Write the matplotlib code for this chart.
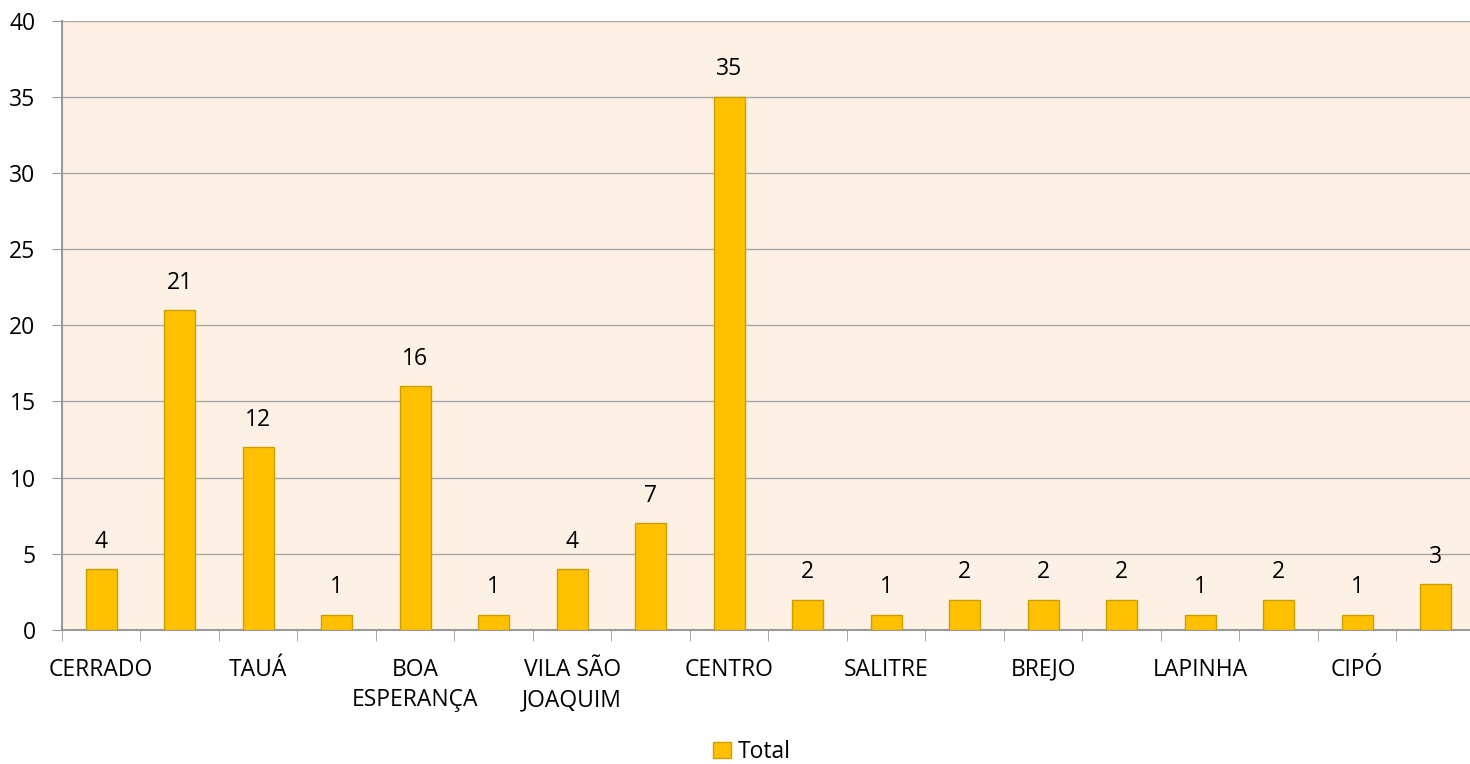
import matplotlib.pyplot as plt
from matplotlib.patches import Patch

# categories (only every other label is shown in the source chart)
categories = ['CERRADO', '', 'TAUÁ', '', 'BOA\nESPERANÇA', '', 'VILA SÃO\nJOAQUIM', '',
              'CENTRO', '', 'SALITRE', '', 'BREJO', '', 'LAPINHA', '', 'CIPÓ', '']
totals = [4, 21, 12, 1, 16, 1, 4, 7, 35, 2, 1, 2, 2, 2, 1, 2, 1, 3]
yticks = [0, 5, 10, 15, 20, 25, 30, 35, 40]

plt.rcParams['font.family'] = ['Open Sans', 'DejaVu Sans']

W, H = 1470, 764
fig = plt.figure(figsize=(W / 100, H / 100), dpi=100)
left, right, top, bottom = 62, 1475, 20.5, 630
ax = fig.add_axes([left / W, 1 - bottom / H, (right - left) / W, (bottom - top) / H])
ax.set_facecolor('#FDF1E5')

x = list(range(len(totals)))
bars = ax.bar(x, totals, width=0.395, color='#FFC000', edgecolor='#C9A000', linewidth=1, zorder=3)
for xi, v in zip(x, totals):
    ax.annotate(str(v), (xi, v), xytext=(0, 11), textcoords='offset points',
                ha='center', va='bottom', fontsize=16.5, color='black')

ax.set_xlim(-0.5, len(totals) - 0.5)
ax.set_ylim(0, 40)
ax.set_yticks(yticks)
ax.tick_params(axis='y', labelsize=16.5, length=7, color='#999999', pad=12)
ax.yaxis.grid(True, color='#A6A6A6', linewidth=1, zorder=0)

# category labels centered on bars, ticks on category boundaries
ax.set_xticks(x)
ax.set_xticklabels(categories, fontsize=16.5, linespacing=1.35)
ax.tick_params(axis='x', length=0, pad=20)
ax.set_xticks([i - 0.5 for i in range(len(totals) + 1)], minor=True)
ax.tick_params(axis='x', which='minor', length=8, color='#999999')

for s in ['top', 'right']:
    ax.spines[s].set_visible(False)
for s in ['left', 'bottom']:
    ax.spines[s].set_color('#999999')
    ax.spines[s].set_linewidth(1.5)

handle = Patch(facecolor='#FFC000', edgecolor='#C9A000', label='Total')
fig.legend(handles=[handle], loc='center', bbox_to_anchor=(752 / W, 1 - 752 / H),
           frameon=False, fontsize=16.5, handlelength=0.75, handleheight=0.75, handletextpad=0.3)

fig.savefig('out.png', dpi=100)
